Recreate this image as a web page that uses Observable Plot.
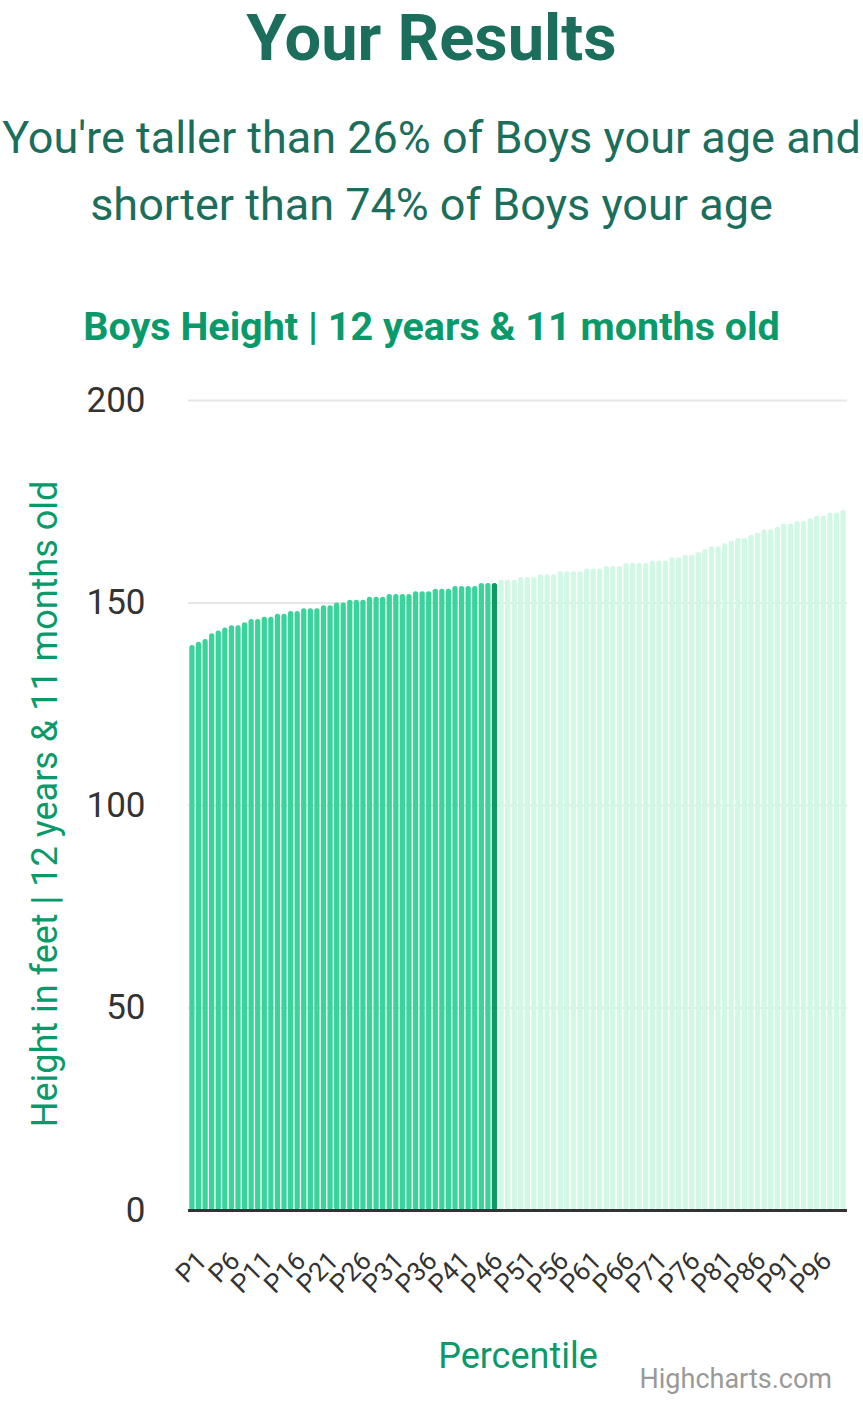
<!DOCTYPE html>
<html>
<head>
<meta charset="utf-8">
<script src="https://cdn.jsdelivr.net/npm/d3@7"></script>
<script src="https://cdn.jsdelivr.net/npm/@observablehq/plot@0.6"></script>
<style>
  html, body { margin: 0; padding: 0; background: #fff; }
  #wrap { position: relative; width: 863px; height: 1406px; font-family: Roboto, "Noto Sans", sans-serif; overflow: hidden; }
  .abs { position: absolute; white-space: nowrap; }
  #title { left: 0; width: 863px; text-align: center; top: 0px; font-size: 65px; font-weight: 700; color: #1a6e5b; line-height: 77px; }
  #sub { left: 0; width: 863px; text-align: center; top: 104px; font-size: 45px; color: #1a6e5b; line-height: 67px; }
  #ctitle { left: 0; width: 863px; text-align: center; top: 305px; font-size: 39.5px; font-weight: 700; color: #0a9a6a; line-height: 44px; }
  #ytitle { left: 45px; top: 804px; font-size: 36px; color: #0a9a6a; transform: translate(-50%, -50%) rotate(-90deg); line-height: 40px; }
  #xtitle { left: 518px; top: 1336px; font-size: 36px; color: #0a9a6a; transform: translateX(-50%); line-height: 40px; }
  #credits { right: 31px; top: 1363px; font-size: 27px; color: #999; line-height: 32px; }
  #chart { position: absolute; left: 0; top: 360px; }
</style>
</head>
<body>
<div id="wrap">
  <div id="title" class="abs">Your Results</div>
  <div id="sub" class="abs">You're taller than 26% of Boys your age and<br>shorter than 74% of Boys your age</div>
  <div id="ctitle" class="abs">Boys Height | 12 years &amp; 11 months old</div>
  <div id="ytitle" class="abs">Height in feet | 12 years &amp; 11 months old</div>
  <div id="xtitle" class="abs">Percentile</div>
  <div id="credits" class="abs">Highcharts.com</div>
  <div id="chart"></div>
</div>
<script>
const percentiles = Array.from({length: 100}, (_, i) => "P" + (i + 1));
const heights = [
  139.5, 140.3, 141.0, 142.4, 143.1, 143.8, 144.4, 144.4, 145.1, 145.9,
  145.9, 146.5, 146.5, 147.2, 147.2, 147.9, 147.9, 148.6, 148.6, 148.6,
  149.3, 149.3, 150.0, 150.0, 150.7, 150.7, 150.7, 151.4, 151.4, 151.4,
  152.1, 152.1, 152.1, 152.1, 152.8, 152.8, 152.8, 153.4, 153.4, 153.4,
  154.1, 154.1, 154.1, 154.1, 154.8, 154.8, 154.8, 155.6, 155.6, 155.6,
  156.3, 156.3, 156.3, 157.0, 157.0, 157.0, 157.7, 157.7, 157.7, 157.7,
  158.4, 158.4, 158.4, 159.0, 159.0, 159.0, 159.8, 159.8, 159.8, 159.8,
  160.4, 160.4, 160.4, 161.2, 161.2, 161.8, 161.8, 162.5, 163.2, 163.9,
  163.9, 164.6, 165.3, 165.9, 165.9, 166.7, 167.3, 168.1, 168.1, 168.7,
  169.5, 169.5, 170.1, 170.1, 170.8, 171.5, 171.5, 172.2, 172.2, 172.9
];
const userPercentile = "P47";
const yTicks = [0, 50, 100, 150, 200];
const xTickLabels = percentiles.filter((_, i) => i % 5 === 0);

const userIndex = percentiles.indexOf(userPercentile);
const data = percentiles.map((p, i) => ({
  p, h: heights[i],
  group: i < userIndex ? "below" : i === userIndex ? "you" : "above"
}));

const chart = Plot.plot({
  width: 863,
  height: 960,
  marginTop: 40,
  marginBottom: 110,
  marginLeft: 188,
  marginRight: 16,
  style: { fontFamily: "Roboto, sans-serif", background: "transparent" },
  x: { domain: percentiles, padding: 0.2, label: null },
  y: { domain: [0, 200], label: null },
  color: { domain: ["below", "you", "above"], range: ["#38d49a", "#0e9966", "#d1f8e5"] },
  marks: [
    Plot.ruleY(yTicks, { stroke: "#e6e6e6", strokeWidth: 2 }),
    Plot.barY(data, { x: "p", y: "h", fill: "group", rx: 2.5 }),
    Plot.ruleY([0], { stroke: "#333", strokeWidth: 3 }),
    Plot.axisY({ ticks: yTicks, tickSize: 0, tickPadding: 43, fontSize: 35, fill: "#333", label: null }),
    Plot.axisX({ ticks: xTickLabels, tickSize: 0, tickPadding: 46, dx: 10, tickRotate: -45, fontSize: 26, fill: "#333", label: null })
  ]
});
document.getElementById("chart").appendChild(chart);
</script>
</body>
</html>
